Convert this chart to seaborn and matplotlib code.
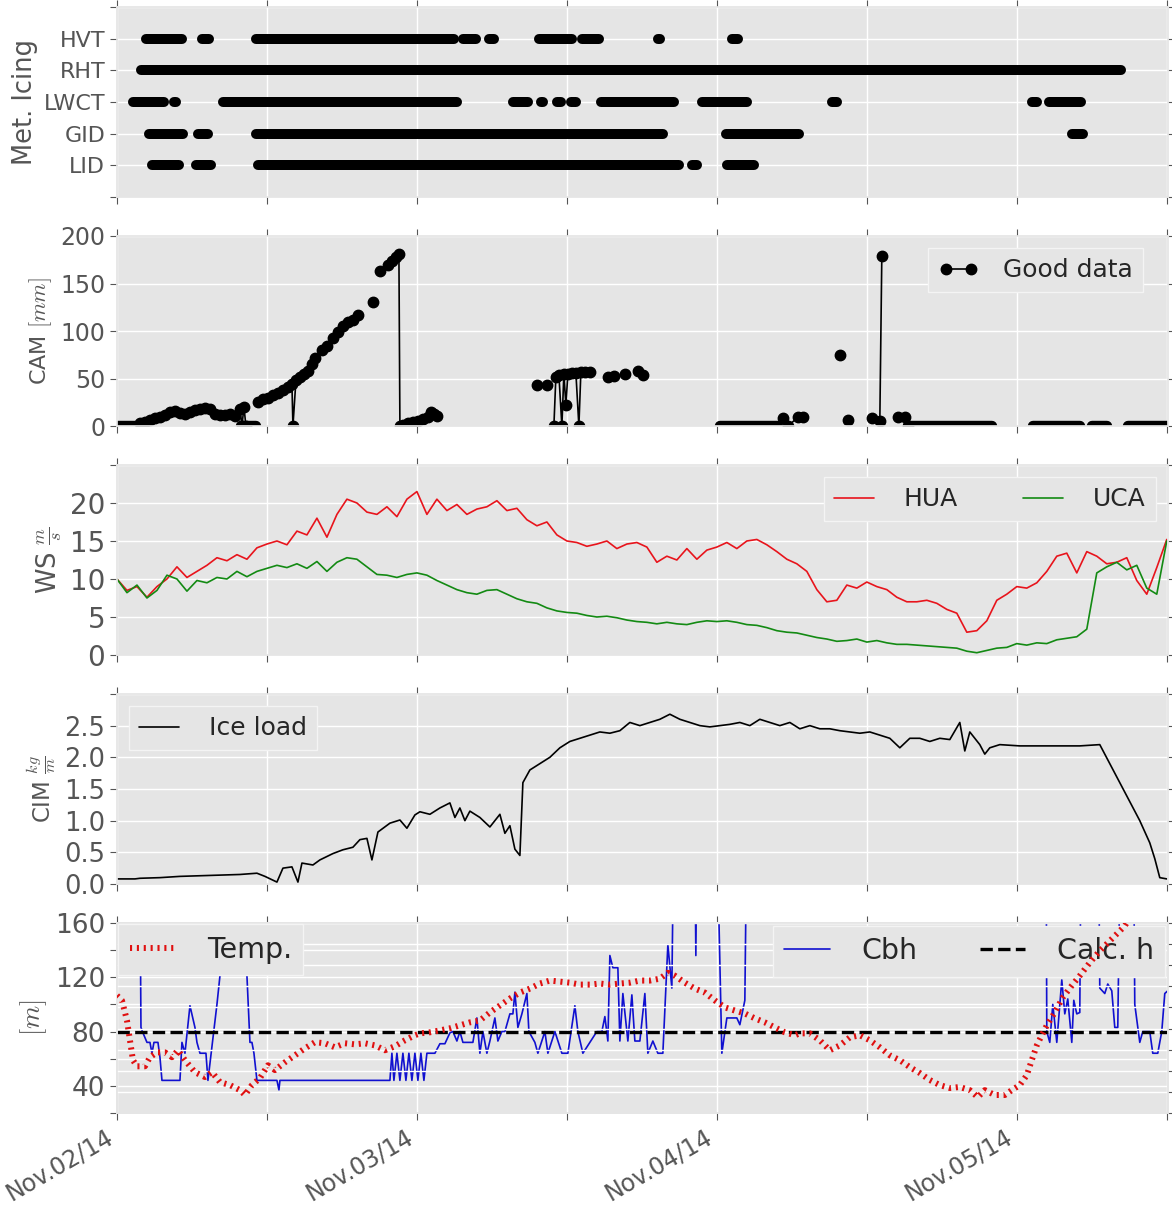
import numpy as np
import matplotlib
matplotlib.use('Agg')
import matplotlib.pyplot as plt
from matplotlib.lines import Line2D
import seaborn as sns

nan = np.nan

# all times are hours after Nov.02/14 00:00
# ---- Met. Icing flags (periods with icing conditions)
hvt_on = [(2.3, 5.2), (6.8, 7.4), (11.1, 27.0), (27.7, 28.7), (29.8, 30.2), (33.8, 36.4),
          (37.2, 38.6), (43.3, 43.45), (49.2, 49.7)]
rht_on = [(1.9, 80.3)]
lwct_on = [(1.3, 3.8), (4.55, 4.7), (8.5, 27.2), (31.7, 32.9), (33.95, 34.1), (35.2, 35.5),
           (36.3, 36.7), (38.7, 44.6), (46.8, 50.4), (57.2, 57.6), (73.2, 73.6), (74.6, 77.1)]
gid_on = [(2.6, 5.3), (6.5, 7.3), (11.1, 43.7), (48.7, 54.6), (76.4, 77.3)]
lid_on = [(2.8, 5.0), (6.3, 7.5), (11.3, 45.0), (46.0, 46.4), (48.8, 51.0)]
icing_names = ['LID', 'GID', 'LWCT', 'RHT', 'HVT']

# ---- CAM (good data), nan = gap
cam_t = [1.84, 2.24, 2.64, 3.04, 3.44, 3.84, 4.24, 4.64, 5.04, 5.44, 5.84, 6.24, 6.64, 7.04,
         7.44, 7.84, 8.24, 8.64, 9.04, 9.44, 9.84, 10.0, 10.16, 10.32, nan,
         11.28, 11.68, 12.08, 12.48, 12.88, 13.28, 13.68, 14.0, 14.08, 14.32, 14.64, 14.96,
         15.28, 15.6, 15.84, 16.4, 16.8, 17.28, 17.68, 18.08, 18.48, 18.88, 19.28, nan,
         20.48, nan, 21.04, 21.68, 22.0, 22.32, 22.56, 22.64, 22.88, 23.28, 23.68, 24.08,
         24.48, 24.88, 25.12, 25.36, 25.6, nan,
         33.6, 34.4, nan, 34.96, 35.12, 35.36, 35.6, 35.76, 35.92, 36.08, 36.4, 36.72, 36.96,
         37.12, 37.44, 37.84, nan, 39.28, 39.76, nan, 40.64, nan, 41.68, 42.08, nan,
         53.28, 53.68, 54.48, 54.88, nan, 57.84, nan, 58.48, nan, 60.4, 61.04, 61.2, nan,
         62.48, 63.04, 63.28]
cam_v = [3, 4, 6, 8, 9, 12, 15, 16, 14, 13, 15, 17, 18, 19,
         18, 13, 12, 12, 13, 11, 18, 0, 20, 0, nan,
         25, 28, 30, 33, 35, 38, 41, 44, 0, 48, 52, 55,
         58, 65, 72, 80, 84, 93, 99, 105, 110, 112, 117, nan,
         131, nan, 163, 170, 174, 178, 181, 0, 1, 3, 4, 5,
         7, 9, 15, 13, 11, nan,
         43, 43, nan, 0, 52, 54, 0, 55, 22, 55, 56, 56, 0,
         57, 57, 57, nan, 52, 53, nan, 55, nan, 58, 54, nan,
         8, 0, 9, 9, nan, 75, nan, 6, nan, 8, 5, 179, nan,
         10, 10, 0]
cam_zero_runs = [(0.0, 1.84), (9.9, 11.1), (48.24, 52.88), (63.28, 70.0), (73.28, 77.04),
                 (78.0, 79.2), (80.88, 84.4)]

# ---- wind speed, sampled every 0.8 h
ws_t = np.arange(0, 84.01, 0.8)
hua = [10.0, 8.5, 9.0, 7.6, 9.0, 10.0, 11.6, 10.2, 11.0, 11.8, 12.8, 12.4, 13.2, 12.6, 14.1,
       14.6, 15.0, 14.5, 16.3, 15.8, 18.0, 15.5, 18.5, 20.5, 20.0, 18.8, 18.5, 19.5, 18.2,
       20.5, 21.5, 18.5, 20.5, 19.0, 19.8, 18.5, 19.2, 19.5, 20.3, 19.0, 19.3, 17.8, 17.0,
       17.5, 15.8, 15.0, 14.8, 14.3, 14.6, 15.0, 14.0, 14.6, 14.8, 14.2, 12.2, 13.0, 12.5,
       14.0, 12.6, 13.8, 14.2, 14.8, 14.0, 15.0, 15.2, 14.5, 13.6, 12.6, 12.0, 11.0, 8.6,
       7.0, 7.2, 9.2, 8.8, 9.6, 9.0, 8.6, 7.6, 7.0, 7.0, 7.2, 6.8, 6.0, 5.5, 3.0, 3.2, 4.5,
       7.2, 8.0, 9.0, 8.8, 9.5, 11.0, 13.0, 13.4, 10.8, 13.6, 13.0, 12.0, 12.2, 12.8, 9.8,
       8.0, 11.5, 15.2]
uca = [10.0, 8.2, 9.2, 7.5, 8.5, 10.5, 10.0, 8.4, 9.8, 9.5, 10.2, 10.0, 11.0, 10.3, 11.0,
       11.4, 11.8, 11.5, 12.0, 11.4, 12.3, 11.0, 12.2, 12.8, 12.6, 11.6, 10.6, 10.5, 10.2,
       10.6, 10.8, 10.5, 9.8, 9.2, 8.6, 8.2, 8.0, 8.5, 8.6, 8.0, 7.4, 7.0, 6.8, 6.2, 5.8,
       5.6, 5.5, 5.2, 5.0, 5.1, 4.9, 4.6, 4.4, 4.3, 4.1, 4.3, 4.1, 4.0, 4.3, 4.5, 4.4, 4.5,
       4.3, 4.0, 3.9, 3.6, 3.2, 3.0, 2.9, 2.6, 2.3, 2.1, 1.8, 1.9, 2.1, 1.7, 1.9, 1.6, 1.4,
       1.4, 1.3, 1.2, 1.1, 1.0, 0.9, 0.5, 0.3, 0.6, 0.9, 1.0, 1.5, 1.3, 1.6, 1.5, 2.0, 2.2,
       2.4, 3.4, 10.8, 11.6, 12.2, 11.2, 11.8, 8.8, 8.0, 15.0]

# ---- ice load
cim_t = [0, 1.44, 1.84, 3.44, 5.04, 6.64, 8.24, 9.84, 11.2, 11.84, 12.8, 13.28, 14.0, 14.48,
         14.8, 15.68, 16.24, 17.28, 18.08, 18.88, 19.44, 20.0, 20.4, 20.88, 21.84, 22.64,
         23.2, 23.84, 24.24, 25.04, 25.84, 26.64, 27.04, 27.44, 27.84, 28.24, 29.04, 29.84,
         30.64, 31.04, 31.44, 31.84, 32.24, 32.48, 33.04, 33.84, 34.64, 35.44, 36.24, 37.04,
         37.84, 38.64, 39.44, 40.24, 41.04, 41.84, 42.64, 43.44, 44.24, 45.04, 45.84, 46.64,
         47.44, 48.24, 49.04, 49.84, 50.64, 51.44, 52.24, 53.04, 53.84, 54.64, 55.44, 56.24,
         57.04, 57.84, 58.64, 59.44, 60.24, 61.04, 61.84, 62.64, 63.44, 64.24, 65.04, 65.84,
         66.64, 67.44, 67.84, 68.24, 69.04, 69.44, 69.84, 70.64, 72.24, 73.84, 75.44, 77.04,
         78.64, 79.44, 80.24, 81.04, 81.84, 82.64, 83.04, 83.44, 84.0]
cim_v = [0.08, 0.08, 0.09, 0.10, 0.12, 0.13, 0.14, 0.15, 0.17, 0.12, 0.03, 0.25, 0.27, 0.03,
         0.33, 0.30, 0.38, 0.48, 0.54, 0.58, 0.70, 0.72, 0.38, 0.82, 0.96, 1.01,
         0.88, 1.09, 1.14, 1.10, 1.20, 1.28, 1.05, 1.20, 1.00, 1.15, 1.05, 0.90,
         1.10, 0.80, 0.92, 0.55, 0.45, 1.60, 1.80, 1.90, 2.00, 2.15, 2.25, 2.30,
         2.35, 2.40, 2.38, 2.42, 2.55, 2.50, 2.55, 2.60, 2.68, 2.60, 2.55, 2.50,
         2.48, 2.50, 2.52, 2.55, 2.50, 2.60, 2.55, 2.50, 2.55, 2.45, 2.50, 2.45,
         2.45, 2.42, 2.40, 2.38, 2.40, 2.35, 2.30, 2.15, 2.30, 2.30, 2.25, 2.30,
         2.28, 2.55, 2.10, 2.40, 2.20, 2.05, 2.15, 2.20, 2.18, 2.18, 2.18, 2.18,
         2.20, 1.90, 1.60, 1.30, 1.00, 0.65, 0.40, 0.10, 0.08]

# ---- cloud base height [m] (values above 160 are off the chart)
cbh_t = [1.76, 1.92, 2.08, 2.4, 2.64, 2.8, 2.96, 3.28, 3.44, 3.6, 5.04, 5.2, 5.44, 5.84, 6.24,
         6.4, 6.64, 7.12, 7.28, 7.68, 8.0, 8.24, 8.56, 10.24, 10.4, 10.64, 10.8, 10.96, 11.2,
         12.8, 12.96, 13.04, 21.84, 22.0, 22.16, 22.4, 22.64, 22.88, 23.12, 23.36, 23.6, 23.84,
         24.08, 24.32, 24.56, 24.8, 25.2, 25.44, 25.84, 26.24, 26.64, 26.88, 27.2, 27.44,
         27.68, 28.48, 28.8, 29.04, 29.28, 29.6, 29.84, 30.24, 30.48, 30.8, 31.04, 31.44,
         31.68, 31.84, 32.08, 32.4, 32.8, 32.96, 33.44, 33.68, 34.24, 34.48, 35.04, 35.6,
         36.08, 36.64, 36.88, 37.28, 37.84, 38.4, 38.8, 39.04, 39.28, 39.44, 39.68, 40.08,
         40.24, 40.48, 40.88, 41.2, 41.44, 41.84, 42.24, 42.48, 42.88, 43.28, 43.68, 44.08,
         44.4, 44.64, 46.16, 46.32, 46.48, 47.84, 48.4, 48.8, 49.6, 49.84, 50.24, 50.48,
         74.16, 74.32, 74.4, 74.64, 74.88, 75.2, 75.6, 75.84, 76.08, 76.4, 76.56, 76.8, 77.04,
         77.2, 78.48, 78.64, 79.04, 79.28, 79.6, 79.84, 80.08, 80.4, 81.28, 81.44, 81.84,
         82.08, 82.64, 82.88, 83.28, 83.6, 83.84, 84.08]
cbh_v = [300, 83, 79, 72, 72, 64, 72, 72, 61, 44, 44, 72, 64, 99, 83,
         72, 64, 64, 44, 75, 100, 121, 300, 300, 121, 72, 72, 64, 44,
         44, 37, 44, 44, 64, 44, 64, 44, 64, 44, 64, 44, 64,
         44, 64, 44, 64, 64, 64, 71, 71, 79, 80, 73, 80,
         72, 72, 90, 64, 80, 64, 73, 90, 73, 80, 80, 93,
         93, 109, 83, 93, 108, 80, 72, 64, 80, 64, 80, 64,
         64, 99, 80, 64, 72, 80, 80, 91, 73, 136, 127, 127,
         73, 108, 73, 107, 73, 73, 108, 64, 73, 64, 64, 144,
         112, 300, 300, 136, 300, 300, 64, 90, 90, 85, 103, 300,
         300, 300, 80, 72, 100, 72, 118, 93, 104, 72, 103, 93, 94,
         300, 300, 112, 108, 115, 110, 83, 83, 300, 300, 100, 72,
         80, 80, 64, 64, 80, 108, 110]
calc_h = 80

# ---- temperature (secondary axis, no labels)
temp_t = [0.0, 0.4, 0.8, 1.04, 1.28, 1.6, 2.24, 2.64, 3.2, 3.84, 4.4, 4.88, 5.44, 6.24, 7.04,
          7.6, 8.24, 9.04, 9.84, 10.24, 10.8, 11.44, 12.08, 12.64, 13.44, 14.24, 15.04, 15.84,
          16.64, 17.44, 18.24, 19.04, 19.84, 20.64, 21.44, 22.24, 23.04, 23.84, 24.24, 25.04,
          25.84, 26.64, 27.44, 28.24, 29.04, 29.84, 30.64, 31.44, 32.24, 33.04, 33.84, 34.64,
          35.44, 36.24, 37.04, 37.84, 38.64, 39.44, 40.24, 41.04, 41.84, 42.64, 43.44, 44.08,
          44.64, 45.44, 46.24, 47.04, 47.84, 48.64, 49.44, 50.24, 51.04, 51.84, 52.64, 53.44,
          54.24, 54.64, 55.44, 56.24, 57.04, 57.84, 58.64, 59.44, 60.24, 61.04, 61.84, 62.64,
          63.44, 64.24, 65.04, 65.84, 66.64, 67.44, 68.24, 68.88, 69.44, 70.24, 71.04, 71.6,
          72.24, 72.8, 73.2, 73.6, 74.0, 74.4, 75.04, 75.68, 76.4, 77.04, 77.84, 78.64, 79.44,
          80.24, 80.64, 81.2]
temp_v = [-3.44, -3.67, -4.62, -5.56, -6.50, -6.79, -6.79, -6.36, -6.13, -6.13, -6.36, -6.03,
          -6.50, -7.07, -7.30, -7.07, -7.54, -7.68, -7.92, -8.15, -7.68, -7.35, -6.74, -6.97,
          -6.60, -6.27, -5.94, -5.65, -5.70, -5.89, -5.70, -5.75, -5.70, -5.80, -6.03, -5.84,
          -5.56, -5.32, -5.23, -5.18, -5.09, -4.99, -4.85, -4.71, -4.62, -4.24, -3.91, -3.58,
          -3.30, -3.11, -2.87, -2.73, -2.78, -2.83, -2.92, -2.92, -2.87, -2.92, -2.87, -2.83,
          -2.73, -2.73, -2.64, -2.36, -2.50, -2.83, -3.11, -3.30, -3.67, -4.00, -4.15, -4.29,
          -4.52, -4.71, -4.95, -5.18, -5.32, -5.23, -5.23, -5.56, -6.03, -5.80, -5.42, -5.32,
          -5.56, -5.89, -6.27, -6.50, -6.83, -7.11, -7.44, -7.68, -7.82, -7.77, -7.92, -8.25,
          -7.92, -8.15, -8.15, -7.92, -7.68, -7.21, -6.50, -5.80, -5.32, -4.85, -4.24, -3.53,
          -2.97, -2.50, -1.88, -1.32, -0.85, -0.38, -0.14, 0.4]

day_ticks = np.arange(0, 85, 12)
day_labels = ['Nov.02/14', '', 'Nov.03/14', '', 'Nov.04/14', '', 'Nov.05/14', '']

sns.set_theme(style='darkgrid', rc={
    'axes.facecolor': '#E5E5E5', 'axes.edgecolor': '#E5E5E5', 'grid.color': 'white',
    'grid.linewidth': 1.0, 'xtick.color': '#555555', 'ytick.color': '#555555',
    'axes.labelcolor': '#555555', 'xtick.direction': 'out', 'ytick.direction': 'out',
    'xtick.major.size': 5, 'ytick.major.size': 5, 'xtick.major.width': 0.8,
    'ytick.major.width': 0.8, 'xtick.bottom': True, 'xtick.top': True,
    'ytick.left': True, 'ytick.right': True, 'legend.frameon': True,
})
plt.rcParams['font.family'] = ['DejaVu Sans']
plt.rcParams['mathtext.fontset'] = 'cm'

fig, axes = plt.subplots(5, 1, figsize=(11.72, 12.10), dpi=100, sharex=True)
fig.subplots_adjust(left=0.0998, right=0.9966, top=0.9942, bottom=0.0802, hspace=0.205)
ax1, ax2, ax3, ax4, ax5 = axes
leg_kw = dict(facecolor='#E5E5E5', edgecolor='#F4F4F4', framealpha=1, fancybox=False,
              handlelength=1.6)

# panel 1: met. icing
for yy, runs in enumerate([lid_on, gid_on, lwct_on, rht_on, hvt_on], start=1):
    for s, e in runs:
        ax1.plot([s, e], [yy, yy], color='black', lw=7.2, solid_capstyle='round')
ax1.set_ylim(0, 6)
ax1.set_yticks(range(7))
ax1.set_yticklabels([''] + icing_names + [''])
ax1.tick_params(axis='y', labelsize=16)
ax1.set_ylabel('Met. Icing', fontsize=18.5)

# panel 2: CAM
ax2.plot(cam_t, cam_v, color='black', lw=1.2, marker='o', ms=7.5)
for s, e in cam_zero_runs:
    ax2.plot([s, e], [0, 0], color='black', lw=7.5, solid_capstyle='round')
ax2.set_ylim(0, 200)
ax2.set_yticks([0, 50, 100, 150, 200])
ax2.tick_params(axis='y', labelsize=17)
ax2.set_ylabel('CAM $[mm]$', fontsize=16)
ax2.legend(handles=[Line2D([], [], color='black', lw=1.2, marker='o', ms=7.5)],
           labels=['Good data'], numpoints=2, loc='upper right', handletextpad=1.0,
           bbox_to_anchor=(0.988, 1.0), fontsize=18, **leg_kw)

# panel 3: wind speed
sns.lineplot(x=ws_t, y=hua, ax=ax3, color='#e8141c', lw=1.2, label='HUA', estimator=None)
sns.lineplot(x=ws_t, y=uca, ax=ax3, color='#138a13', lw=1.2, label='UCA', estimator=None)
ax3.set_ylim(0, 25)
ax3.set_yticks([0, 5, 10, 15, 20, 25])
ax3.set_yticklabels(['0', '5', '10', '15', '20', ''])
ax3.tick_params(axis='y', labelsize=20)
ax3.set_ylabel(r'WS $\frac{m}{s}$', fontsize=18.5)
ax3.legend(loc='upper right', ncol=2, columnspacing=2.6, handletextpad=1.2, fontsize=18,
           **leg_kw)

# panel 4: ice load
sns.lineplot(x=cim_t, y=cim_v, ax=ax4, color='black', lw=1.2, label='Ice load', estimator=None)
ax4.set_ylim(0, 3.0)
ax4.set_yticks(np.arange(0, 3.01, 0.5))
ax4.set_yticklabels(['0.0', '0.5', '1.0', '1.5', '2.0', '2.5', ''])
ax4.tick_params(axis='y', labelsize=18.5)
ax4.set_ylabel(r'CIM $\frac{kg}{m}$', fontsize=16.5)
ax4.legend(loc='upper left', handletextpad=1.2, fontsize=18, **leg_kw)

# panel 5: cloud base, calculated height and temperature
sns.lineplot(x=cbh_t, y=cbh_v, ax=ax5, color='#1010d0', lw=1.2, label='Cbh', estimator=None)
ax5.axhline(calc_h, color='black', lw=2.4, ls='--', label='Calc. h')
ax5.set_ylim(20, 160)
ax5.set_yticks(range(20, 161, 20))
ax5.set_yticklabels(['', '40', '', '80', '', '120', '', '160'])
ax5.tick_params(axis='y', labelsize=19)
ax5.set_ylabel('$[m]$', fontsize=19)
h5, l5 = ax5.get_legend_handles_labels()
ax5.get_legend().remove()

ax5b = ax5.twinx()
sns.lineplot(x=temp_t, y=temp_v, ax=ax5b, color='#e01010', lw=4.3, zorder=6,
             linestyle=(0, (0.35, 0.8)), label='Temp.', estimator=None)
ax5b.set_ylim(-9, 0)
ax5b.set_yticks(range(-9, 1))
ax5b.set_yticklabels([])
ax5b.grid(True, color='white', lw=1.0)
ax5b.set_ylabel('')
leg_cbh = ax5b.legend(h5, l5, loc='upper right', ncol=2, columnspacing=2.2,
                      handletextpad=1.1, borderaxespad=0.1, fontsize=20.5, **leg_kw)
ax5b.add_artist(leg_cbh)
ax5b.legend(loc='upper left', borderaxespad=0.05, handletextpad=1.1, fontsize=20.5, **leg_kw)

for ax in axes:
    ax.set_xlim(0, 84.1)
ax5.set_xticks(day_ticks)
ax5.set_xticklabels(day_labels, rotation=30, ha='right', fontsize=17)
ax5.set_xlabel('')

fig.savefig('out.png', dpi=100)
